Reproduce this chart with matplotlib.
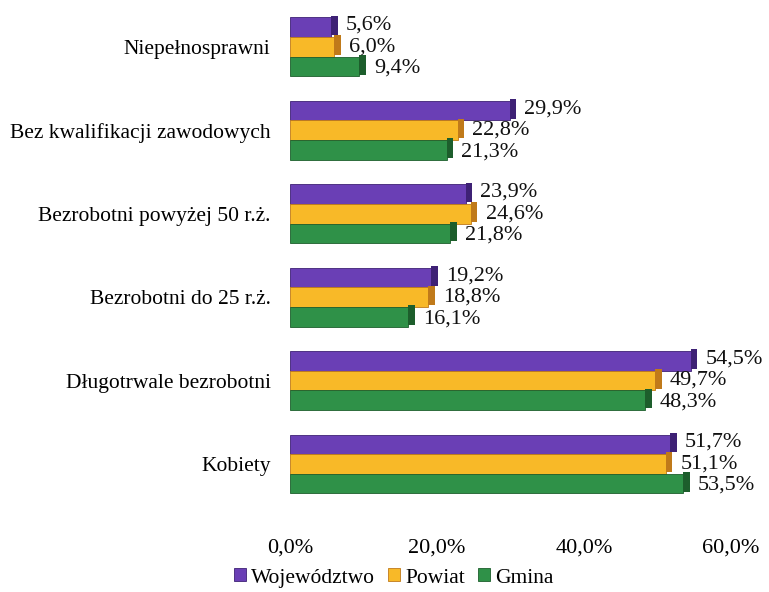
import matplotlib.pyplot as plt
import numpy as np

# Data (percent)
categories = ["Kobiety", "Długotrwale bezrobotni", "Bezrobotni do 25 r.ż.",
              "Bezrobotni powyżej 50 r.ż.", "Bez kwalifikacji zawodowych", "Niepełnosprawni"]
wojewodztwo = [51.7, 54.5, 19.2, 23.9, 29.9, 5.6]
powiat = [51.1, 49.7, 18.8, 24.6, 22.8, 6.0]
gmina = [53.5, 48.3, 16.1, 21.8, 21.3, 9.4]
series_names = ["Województwo", "Powiat", "Gmina"]
x_ticks = [0, 20, 40, 60]

colors = ["#6a3fb5", "#f8b928", "#2f9148"]
side_colors = ["#3e2175", "#c07a1a", "#1d5e2c"]

plt.rcParams['font.family'] = ['Liberation Serif', 'DejaVu Serif']

fig = plt.figure(figsize=(7.69, 5.92), dpi=100)
ax = fig.add_axes([290 / 769, 78 / 592, 441 / 769, 513 / 592])

y = np.arange(len(categories))
h = 0.235
offsets = [h, 0, -h]
for vals, off, c, sc, name in zip([wojewodztwo, powiat, gmina], offsets, colors, side_colors, series_names):
    ax.barh(y + off, vals, height=h, color=c, edgecolor=sc, linewidth=0.6, label=name)
    # darker side face for the 3D look
    ax.barh(y + off + 0.02, [0.9] * len(vals), left=vals, height=h, color=sc, linewidth=0)
    for yi, v in zip(y, vals):
        ax.text(v + 2.0, yi + off * 1.1, f"{v:.1f}%".replace(".", ","), va="center", ha="left",
                fontsize=16, color="#111111")

ax.set_xlim(0, 60)
ax.set_ylim(-0.6, 5.55)
ax.set_yticks(y)
ax.set_yticklabels(categories, fontsize=15.5)
ax.set_xticks(x_ticks)
ax.set_xticklabels([f"{t:.1f}%".replace(".", ",") for t in x_ticks], fontsize=16)
ax.tick_params(length=0)
ax.tick_params(axis="y", pad=14)
ax.tick_params(axis="x", pad=18)
for s in ax.spines.values():
    s.set_visible(False)

fig.legend(*ax.get_legend_handles_labels(), loc="center", bbox_to_anchor=(0.512, 14 / 592),
           ncol=3, frameon=False, fontsize=15.5, handlelength=0.55, handleheight=0.55,
           handletextpad=0.25, columnspacing=0.6, borderpad=0)

plt.savefig("out.png", dpi=100)
